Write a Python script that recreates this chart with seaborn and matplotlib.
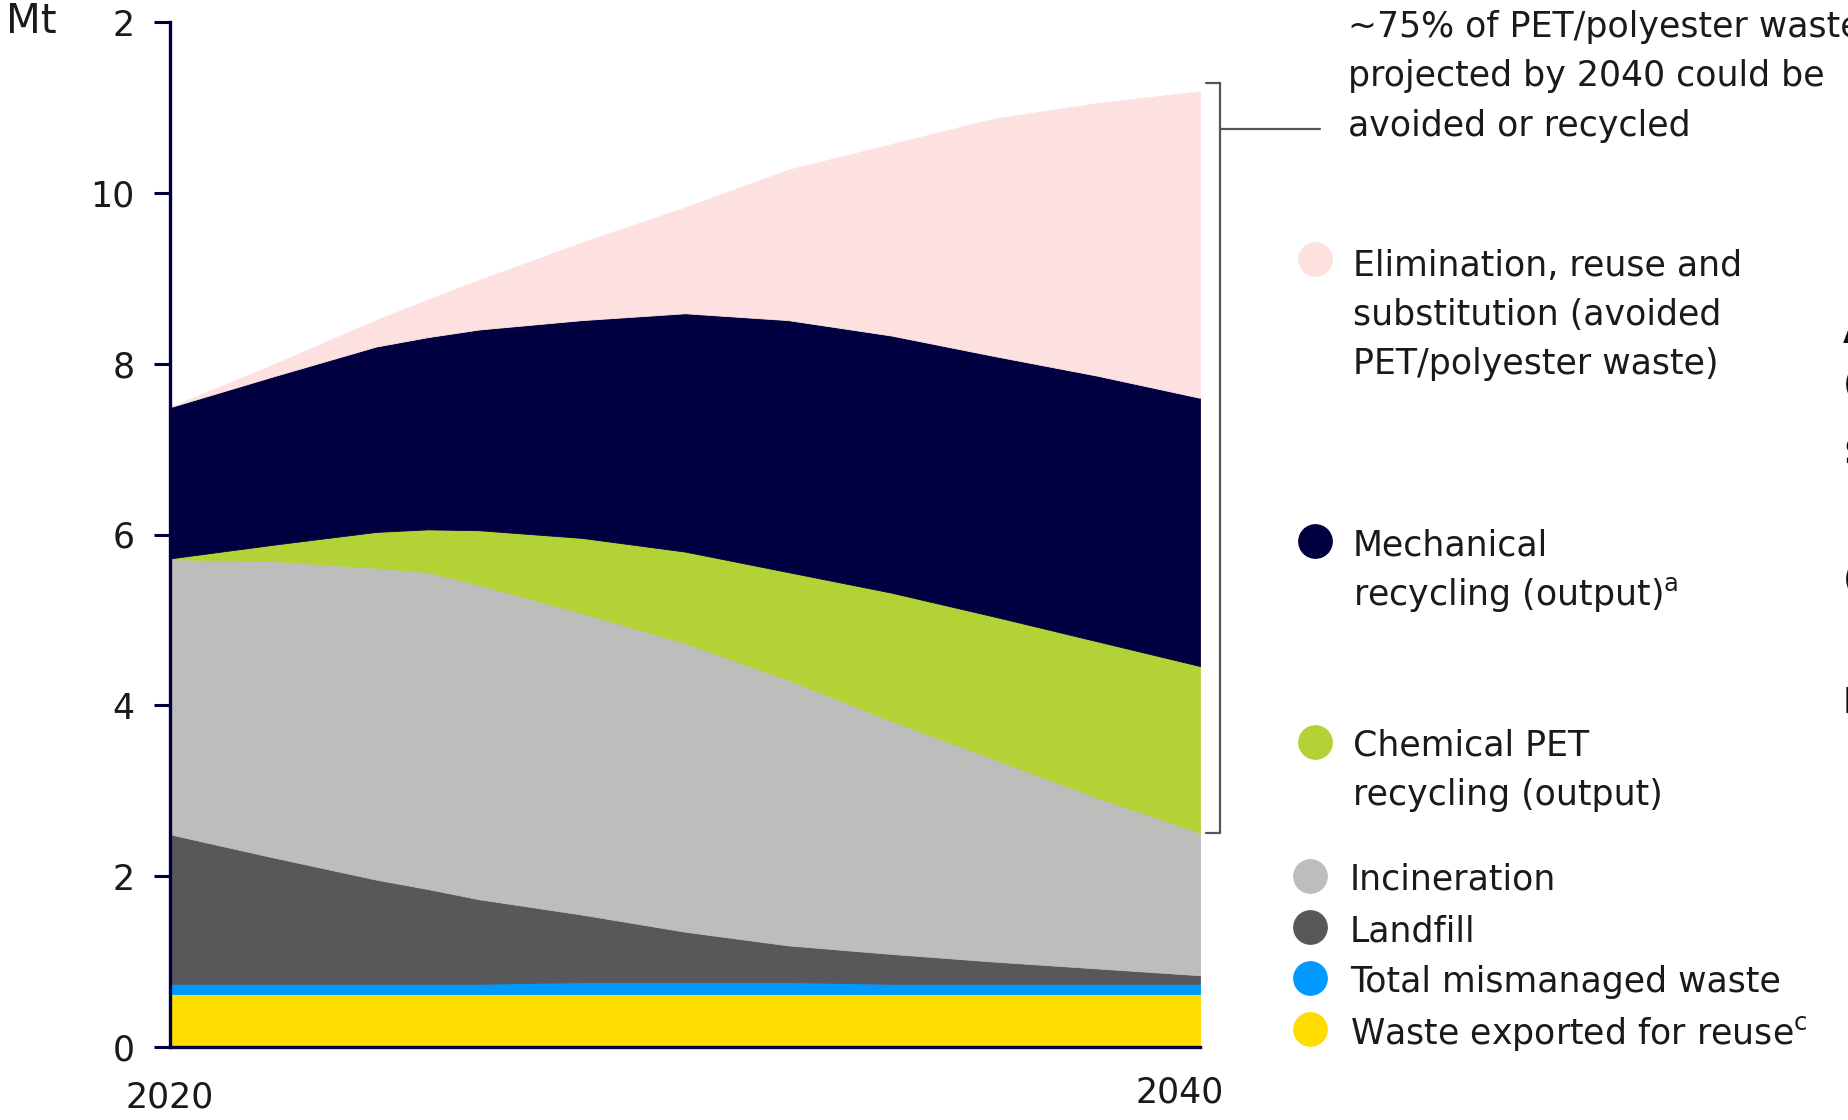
import numpy as np
import pandas as pd
import matplotlib
matplotlib.use("Agg")
import matplotlib.pyplot as plt
import matplotlib.transforms as mtransforms
from matplotlib.lines import Line2D
import seaborn as sns

# ---------------- data (Mt) ----------------
years = [2020, 2022, 2024, 2025, 2026, 2028, 2030, 2032, 2034, 2036, 2038, 2040]
export = [0.62, 0.62, 0.62, 0.62, 0.62, 0.62, 0.62, 0.62, 0.62, 0.62, 0.62, 0.62]
mismanaged = [0.12, 0.12, 0.12, 0.12, 0.12, 0.14, 0.14, 0.14, 0.12, 0.12, 0.12, 0.12]
landfill = [1.75, 1.48, 1.22, 1.11, 0.99, 0.79, 0.59, 0.43, 0.35, 0.26, 0.18, 0.10]
incineration = [3.22, 3.47, 3.65, 3.71, 3.68, 3.53, 3.38, 3.11, 2.73, 2.37, 2.00, 1.67]
chemical = [0.01, 0.19, 0.42, 0.50, 0.64, 0.88, 1.07, 1.26, 1.50, 1.67, 1.83, 1.95]
mechanical = [1.77, 1.97, 2.17, 2.25, 2.35, 2.55, 2.79, 2.95, 3.01, 3.05, 3.11, 3.14]
elimination = [0.00, 0.14, 0.31, 0.44, 0.58, 0.91, 1.24, 1.76, 2.24, 2.78, 3.19, 3.59]

layer_names = ["Waste exported for reuse", "Total mismanaged waste", "Landfill",
               "Incineration", "Chemical PET recycling (output)",
               "Mechanical recycling (output)", "Elimination, reuse and substitution"]
layer_colors = ["#FFDD00", "#0099FF", "#58585A", "#BDBEBB", "#B2D235", "#000040", "#FDE1E1"]

yticks = [0, 2, 4, 6, 8, 10, 12]
ytick_labels = ["0", "2", "4", "6", "8", "10", "2"]
xticks = [2020, 2040]
xtick_labels = ["2020", "2040"]

df = pd.DataFrame({"year": years, "export": export, "mismanaged": mismanaged,
                   "landfill": landfill, "incineration": incineration,
                   "chemical": chemical, "mechanical": mechanical,
                   "elimination": elimination})

# ---------------- style ----------------
sns.set_theme(style="white")
plt.rcParams["font.family"] = ["DejaVu Sans"]
plt.rcParams["mathtext.fontset"] = "dejavusans"

W, H = 1849, 1120
fig = plt.figure(figsize=(W / 100, H / 100), dpi=100)
fig.patch.set_facecolor("white")

ax_l, ax_r, ax_t, ax_b = 170, 1200, 22, 1047
ax = fig.add_axes([ax_l / W, 1 - ax_b / H, (ax_r - ax_l) / W, (ax_b - ax_t) / H])
ax.set_facecolor("white")

cols = ["export", "mismanaged", "landfill", "incineration", "chemical", "mechanical", "elimination"]
polys = ax.stackplot(df["year"], *[df[c] for c in cols], colors=layer_colors, labels=layer_names)
for p, c in zip(polys, layer_colors):
    p.set_edgecolor(c)
    p.set_linewidth(0.6)

ax.set_xlim(2020, 2040)
ax.set_ylim(0, 12)
sns.despine(ax=ax, top=True, right=True)
navy = "#000040"
for s in ["left", "bottom"]:
    ax.spines[s].set_color(navy)
    ax.spines[s].set_linewidth(2.4)
    ax.spines[s].set_zorder(5)

ax.set_yticks(yticks)
ax.set_yticklabels(ytick_labels)
ax.tick_params(axis="y", direction="out", length=11.5, width=2.2, color=navy,
               pad=14, labelsize=25, labelcolor="#1a1a1a", left=True)
ax.set_xticks(xticks)
ax.set_xticklabels(xtick_labels)
ax.tick_params(axis="x", length=0, pad=24, labelsize=25, labelcolor="#1a1a1a")
# nudge the 2040 label left / up as in reference
lbls = ax.get_xticklabels()
lbls[1].set_transform(lbls[1].get_transform() +
                      mtransforms.ScaledTranslation(-20 / 100, 5 / 100, fig.dpi_scale_trans))
ax.grid(False)

# unit label
fig.text(6 / W, 1 - 22 / H, "Mt", fontsize=29, color="#1a1a1a", ha="left", va="center")

# ---------------- bracket annotation ----------------
def fx(px):
    return px / W

def fy(py):
    return 1 - py / H

total_end = sum(df[c].iloc[-1] for c in cols)
bottom_end = sum(df[c].iloc[-1] for c in ["export", "mismanaged", "landfill", "incineration"])
btrans = mtransforms.blended_transform_factory(ax.transAxes, ax.transData)
xa = lambda px: (px - ax_l) / (ax_r - ax_l)
gray_line = "#555555"
ax.add_line(Line2D([xa(1220), xa(1220)], [bottom_end, total_end + 0.1], transform=btrans,
                   color=gray_line, lw=1.6, clip_on=False))
ax.add_line(Line2D([xa(1206), xa(1220)], [total_end + 0.1, total_end + 0.1], transform=btrans,
                   color=gray_line, lw=1.6, clip_on=False))
ax.add_line(Line2D([xa(1206), xa(1220)], [bottom_end, bottom_end], transform=btrans,
                   color=gray_line, lw=1.6, clip_on=False))
fig.add_artist(Line2D([fx(1220), fx(1320)], [fy(129), fy(129)], transform=fig.transFigure,
                      color=gray_line, lw=1.6))

ann_lines = ["~75% of PET/polyester waste", "projected by 2040 could be", "avoided or recycled"]
for yy, t in zip([24, 73, 123], ann_lines):
    fig.text(fx(1348), fy(yy + 13), t, fontsize=25, color="#1a1a1a", ha="left", va="baseline")

# ---------------- legend ----------------
legend_groups = [
    (6, 1315, 1353, 259, [263, 312, 361],
     ["Elimination, reuse and", "substitution (avoided", "PET/polyester waste)"]),
    (5, 1315, 1353, 541, [542, 592], ["Mechanical", r"recycling (output)$^{\mathrm{a}}$"]),
    (4, 1315, 1353, 742, [743, 792], ["Chemical PET", "recycling (output)"]),
    (3, 1310, 1350, 876, [877], ["Incineration"]),
    (2, 1310, 1350, 927, [928], ["Landfill"]),
    (1, 1310, 1350, 978, [979], ["Total mismanaged waste"]),
    (0, 1310, 1350, 1029, [1031], [r"Waste exported for reuse$^{\mathrm{c}}$"]),
]
for idx, mx, tx, my, ys, texts in legend_groups:
    fig.add_artist(Line2D([fx(mx)], [fy(my)], marker="o", markersize=24, linestyle="none",
                          markerfacecolor=layer_colors[idx], markeredgecolor=layer_colors[idx],
                          transform=fig.transFigure))
    for yy, t in zip(ys, texts):
        fig.text(fx(tx), fy(yy + 13), t, fontsize=25, color="#1a1a1a", ha="left", va="baseline")

# cut-off text fragments at the right edge of the source page
for yy, t in zip([330, 382, 450, 577, 700], ["A", "(", "S", "(", "I"]):
    fig.text(fx(1843), fy(yy + 13), t, fontsize=26, color="#111111", ha="left",
             va="baseline", fontweight="bold")

fig.savefig("out.png", dpi=100, facecolor="white")
